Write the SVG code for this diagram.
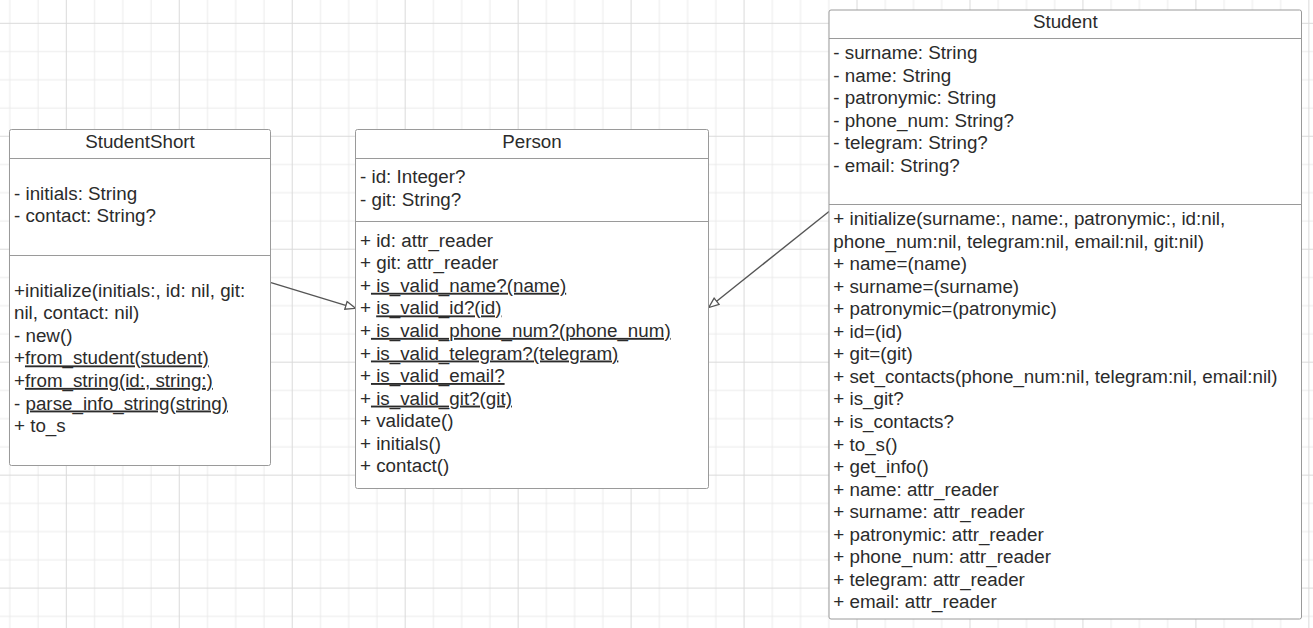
<svg xmlns="http://www.w3.org/2000/svg" width="1313" height="628" viewBox="0 0 1313 628">
<style>
.box{fill:#fff;stroke:#9a9a9a;stroke-width:1}
.div{stroke:#9a9a9a;stroke-width:1;fill:none}
.t{font-family:"Liberation Sans",Arial,sans-serif;font-size:18.8px;fill:#2b2b2b;white-space:pre}
.c{text-anchor:middle}
.u{text-decoration:underline}
.edge{stroke:#555;stroke-width:1.4;fill:none}
</style>
<defs>
<pattern id="grid" x="65.8" y="22.8" width="112.96" height="112.96" patternUnits="userSpaceOnUse">
<path d="M28.74 0V112.96M56.98 0V112.96M85.22 0V112.96M0 28.74H112.96M0 56.98H112.96M0 85.22H112.96" stroke="#ebebeb" stroke-width="1"/>
<path d="M0.5 0V112.96M0 0.5H112.96" stroke="#dadada" stroke-width="1"/>
</pattern>
<marker id="tri" viewBox="0 0 12 10" refX="11" refY="5" markerWidth="12" markerHeight="10" markerUnits="userSpaceOnUse" orient="auto">
<path d="M1,1 L11,5 L1,9 Z" fill="#fff" stroke="#555" stroke-width="1.3"/>
</marker>
</defs>
<rect width="1313" height="628" fill="#fff"/>
<rect width="1313" height="628" fill="url(#grid)"/>

<g id="connectors">
<line class="edge" x1="271" y1="282.7" x2="355.5" y2="308.3" marker-end="url(#tri)"/>
<line class="edge" x1="829" y1="211.5" x2="708.8" y2="307.5" marker-end="url(#tri)"/>
</g>

<g id="StudentShort">
<rect class="box" x="9.5" y="129.5" width="261" height="336" rx="2"/>
<line class="div" x1="9.5" y1="158.5" x2="270.5" y2="158.5"/>
<line class="div" x1="9.5" y1="255.5" x2="270.5" y2="255.5"/>
<text class="t c" x="140" y="147.5">StudentShort</text>
<text class="t" x="14" y="199.5">- initials: String</text>
<text class="t" x="14" y="222">- contact: String?</text>
<text class="t" x="14" y="296.7">+initialize(initials:, id: nil, git:</text>
<text class="t" x="14" y="319.3">nil, contact: nil)</text>
<text class="t" x="14" y="341.8">- new()</text>
<text class="t" x="14" y="364.4">+<tspan class="u">from_student(student)</tspan></text>
<text class="t" x="14" y="386.9">+<tspan class="u">from_string(id:, string:)</tspan></text>
<text class="t" x="14" y="409.5">- <tspan class="u">parse_info_string(string)</tspan></text>
<text class="t" x="14" y="432">+ to_s</text>
</g>

<g id="Person">
<rect class="box" x="355.5" y="129.5" width="353" height="359" rx="2"/>
<line class="div" x1="355.5" y1="158.5" x2="708.5" y2="158.5"/>
<line class="div" x1="355.5" y1="221.5" x2="708.5" y2="221.5"/>
<text class="t c" x="532" y="148">Person</text>
<text class="t" x="360" y="183.3">- id: Integer?</text>
<text class="t" x="360" y="206">- git: String?</text>
<text class="t" x="360" y="246.7">+ id: attr_reader</text>
<text class="t" x="360" y="269.3">+ git: attr_reader</text>
<text class="t" x="360" y="291.8">+<tspan class="u"> is_valid_name?(name)</tspan></text>
<text class="t" x="360" y="314.4">+ <tspan class="u">is_valid_id?(id)</tspan></text>
<text class="t" x="360" y="336.9">+<tspan class="u"> is_valid_phone_num?(phone_num)</tspan></text>
<text class="t" x="360" y="359.5">+<tspan class="u"> is_valid_telegram?(telegram)</tspan></text>
<text class="t" x="360" y="382">+<tspan class="u"> is_valid_email?</tspan></text>
<text class="t" x="360" y="404.6">+<tspan class="u"> is_valid_git?(git)</tspan></text>
<text class="t" x="360" y="427.1">+ validate()</text>
<text class="t" x="360" y="449.7">+ initials()</text>
<text class="t" x="360" y="472.2">+ contact()</text>
</g>

<g id="Student">
<rect class="box" x="829" y="10" width="472.5" height="609" rx="2"/>
<line class="div" x1="829" y1="38.5" x2="1301.5" y2="38.5"/>
<line class="div" x1="829" y1="204.5" x2="1301.5" y2="204.5"/>
<text class="t c" x="1065.3" y="28">Student</text>
<text class="t" x="833.3" y="59">- surname: String</text>
<text class="t" x="833.3" y="81.5">- name: String</text>
<text class="t" x="833.3" y="104">- patronymic: String</text>
<text class="t" x="833.3" y="126.5">- phone_num: String?</text>
<text class="t" x="833.3" y="149">- telegram: String?</text>
<text class="t" x="833.3" y="171.5">- email: String?</text>
<text class="t" x="833.3" y="225">+ initialize(surname:, name:, patronymic:, id:nil,</text>
<text class="t" x="833.3" y="247.5">phone_num:nil, telegram:nil, email:nil, git:nil)</text>
<text class="t" x="833.3" y="270.1">+ name=(name)</text>
<text class="t" x="833.3" y="292.6">+ surname=(surname)</text>
<text class="t" x="833.3" y="315.2">+ patronymic=(patronymic)</text>
<text class="t" x="833.3" y="337.7">+ id=(id)</text>
<text class="t" x="833.3" y="360.3">+ git=(git)</text>
<text class="t" x="833.3" y="382.8">+ set_contacts(phone_num:nil, telegram:nil, email:nil)</text>
<text class="t" x="833.3" y="405.4">+ is_git?</text>
<text class="t" x="833.3" y="428">+ is_contacts?</text>
<text class="t" x="833.3" y="450.5">+ to_s()</text>
<text class="t" x="833.3" y="473.1">+ get_info()</text>
<text class="t" x="833.3" y="495.6">+ name: attr_reader</text>
<text class="t" x="833.3" y="518.2">+ surname: attr_reader</text>
<text class="t" x="833.3" y="540.7">+ patronymic: attr_reader</text>
<text class="t" x="833.3" y="563.3">+ phone_num: attr_reader</text>
<text class="t" x="833.3" y="585.8">+ telegram: attr_reader</text>
<text class="t" x="833.3" y="608.3">+ email: attr_reader</text>
</g>
</svg>
